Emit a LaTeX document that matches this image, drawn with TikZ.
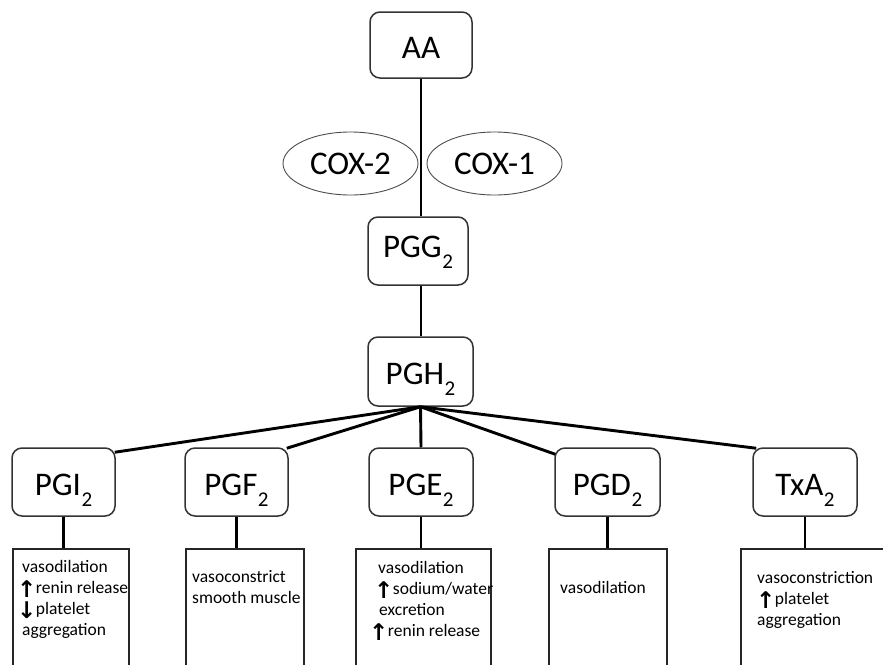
\documentclass[tikz,border=0pt]{standalone}
\usepackage{fontspec}
\setmainfont{Carlito}
\newfontfamily\arrfont{DejaVu Sans}
\usetikzlibrary{shapes.geometric,calc}
\newcommand\lowsub[1]{\kern0.5pt\raisebox{-11pt}{\fontsize{21}{21}\selectfont #1}}
\newcommand\uparr{\smash{\raisebox{-4pt}{\arrfont\bfseries\fontsize{23}{23}\selectfont\kern-1pt ↑}}\kern-0.5pt}
\newcommand\dnarr{\smash{\raisebox{-4pt}{\arrfont\bfseries\fontsize{23}{23}\selectfont\kern-1pt ↓}}\kern-0.5pt}
\tikzset{
  box/.style={draw=black!80, line width=1.5pt, rounded corners=10pt, fill=white,
    inner sep=0pt, font=\fontsize{33}{33}\selectfont, text height=30pt, text depth=4pt},
  enz/.style={ellipse, draw=black!70, line width=0.9pt, minimum width=135pt,
    minimum height=63pt, inner sep=0pt, font=\fontsize{33}{33}\selectfont},
  desc/.style={draw=black!85, line width=1.7pt, inner sep=0pt, anchor=north west, minimum height=140pt},
  dtext/.style={anchor=north west, inner sep=0pt, align=left, font=\fontsize{17.5}{21}\selectfont},
  conn/.style={line width=2.9pt, black},
  vline/.style={line width=2pt, black}
}
\begin{document}
\begin{tikzpicture}[x=1pt,y=-1pt]
\clip (0,0) rectangle (883,664);
\fill[white] (0,0) rectangle (883,664);

% top chain
\node[box, minimum width=102pt, minimum height=66pt] (aa) at (421,45) {AA};
\node[box, minimum width=100pt, minimum height=68pt, text height=24pt, text depth=12pt] (pgg) at (418,251) {PGG\lowsub{2}};
\node[box, minimum width=105pt, minimum height=69pt] (pgh) at (420.5,371.5) {PGH\lowsub{2}};

\draw[vline] (aa.south) -- (aa.south |- pgg.north);
\draw[vline] (aa.south |- pgg.south) -- (aa.south |- pgh.north);

\node[enz] (cox2) at (350.5,163.5) {COX-2};
\node[enz] (cox1) at (494.5,163.5) {COX-1};

% products
\node[box, minimum width=103pt, minimum height=68pt] (pgi) at (63.5,482) {PGI\lowsub{2}};
\node[box, minimum width=103pt, minimum height=68pt] (pgf) at (236.5,482) {PGF\lowsub{2}};
\node[box, minimum width=104pt, minimum height=68pt] (pge) at (421,482) {PGE\lowsub{2}};
\node[box, minimum width=105pt, minimum height=68pt] (pgd) at (607.5,482) {PGD\lowsub{2}};
\node[box, minimum width=104pt, minimum height=68pt] (txa) at (805,482) {TxA\lowsub{2}};

\draw[conn] (pgh.south) -- ([xshift=-1pt,yshift=-5pt]pgi.north east);
\draw[conn] (pgh.south) -- ([xshift=-2pt,yshift=-1pt]pgf.north east);
\draw[conn] (pgh.south) -- (pge.north);
\draw[conn] (pgh.south) -- ([xshift=1pt,yshift=-7pt]pgd.north west);
\draw[conn] (pgh.south) -- ([xshift=4pt,yshift=-1pt]txa.north west);

% description boxes
\node[desc, minimum width=116pt] (d1) at (12,548) {};
\node[desc, minimum width=118pt] (d2) at (185,548) {};
\node[desc, minimum width=135pt] (d3) at (355,548) {};
\node[desc, minimum width=118pt] (d4) at (548,548) {};
\node[desc, minimum width=160pt] (d5) at (740,548) {};

\draw[vline, line width=2.5pt] (pgi.south) -- (pgi.south |- d1.north);
\draw[vline, line width=2.5pt] (pgf.south) -- (pgf.south |- d2.north);
\draw[vline, line width=2.5pt] (pge.south) -- (pge.south |- d3.north);
\draw[vline, line width=2.5pt] (pgd.south) -- (pgd.south |- d4.north);
\draw[vline, line width=2.5pt] (txa.south) -- (txa.south |- d5.north);

\node[dtext] (t1) at (18,560) {\hspace{4pt}vasodilation\\\uparr renin release\\\dnarr platelet\\\hspace{4pt}aggregation};
\node[dtext] (t2) at (192,570) {vasoconstrict\\smooth muscle};
\node[dtext] (t3) at (370,561) {\hspace{8pt}vasodilation\\\hspace{5pt}\uparr sodium/water\\\hspace{9pt}excretion\\\uparr renin release};
\node[dtext] (t4) at (560,581) {vasodilation};
\node[dtext] (t5) at (757,571) {vasoconstriction\\\uparr platelet\\aggregation};
\end{tikzpicture}
\end{document}
